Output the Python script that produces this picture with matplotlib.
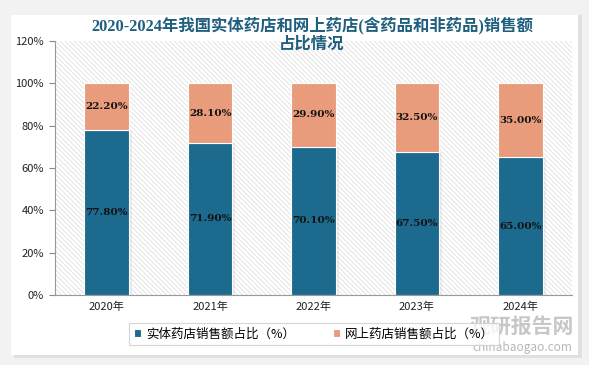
import numpy as np
import matplotlib
matplotlib.use("Agg")
import matplotlib.pyplot as plt
from matplotlib.patches import Rectangle

plt.rcParams['font.family'] = ['Noto Sans CJK SC', 'DejaVu Sans']
plt.rcParams['hatch.linewidth'] = 0.5

years = ['2020年', '2021年', '2022年', '2023年', '2024年']
offline = [77.8, 71.9, 70.1, 67.5, 65.0]
online = [22.2, 28.1, 29.9, 32.5, 35.0]
series_names = ['实体药店销售额占比（%）', '网上药店销售额占比（%）']
title = '2020-2024年我国实体药店和网上药店(含药品和非药品)销售额\n占比情况'

c_off = '#1c6a8e'
c_on = '#e89c7c'
num_font = ['DejaVu Serif']


def plot_chart():
    fig = plt.figure(figsize=(5.89, 3.65), dpi=100)
    fig.patch.set_facecolor('#f2f2f2')

    # white card with soft shadow
    fig.patches.append(Rectangle((14 / 589, 1 - 358 / 365), 568 / 589, 343 / 365,
                                 transform=fig.transFigure, facecolor='#e0e0e0',
                                 edgecolor='none', zorder=-3))
    fig.patches.append(Rectangle((11 / 589, 1 - 355 / 365), 567 / 589, 340 / 365,
                                 transform=fig.transFigure, facecolor='white',
                                 edgecolor='none', zorder=-2))

    ax = fig.add_axes([55 / 589, 1 - 295 / 365, 517 / 589, 254 / 365])
    ax.set_zorder(1)
    ax.set_facecolor('none')
    ax.add_patch(Rectangle((0, 0), 1, 1, transform=ax.transAxes, facecolor='white',
                           edgecolor='#dadada', hatch='\\' * 7, linewidth=0, zorder=0))

    x = np.arange(len(years))
    w = 0.43
    ax.bar(x + 0.03, offline, w, color='#cfcfcf', alpha=0.35, zorder=1)
    ax.bar(x, offline, w, color=c_off, edgecolor='white', linewidth=0.8,
           label=series_names[0], zorder=2)
    ax.bar(x, online, w, bottom=offline, color=c_on, edgecolor='white', linewidth=0.8,
           label=series_names[1], zorder=2)

    for i in range(len(years)):
        ax.text(x[i], offline[i] / 2, f'{offline[i]:.2f}%', ha='center', va='center',
                fontsize=7.5, fontweight='bold', color='#111111', family=num_font, zorder=3)
        ax.text(x[i], offline[i] + online[i] / 2, f'{online[i]:.2f}%', ha='center',
                va='center', fontsize=7.5, fontweight='bold', color='#111111',
                family=num_font, zorder=3)

    ax.set_xlim(-0.5, len(years) - 0.5)
    ax.set_ylim(0, 120)
    ax.set_yticks(np.arange(0, 121, 20))
    ax.set_yticklabels([f'{v}%' for v in range(0, 121, 20)], fontsize=8, color='#222222')
    ax.set_xticks(x)
    ax.set_xticklabels(years, fontsize=8, color='#222222')
    ax.tick_params(axis='x', length=0, pad=5)
    ax.tick_params(axis='y', length=4, color='#888888', pad=4, direction='out')
    for s in ['top', 'right']:
        ax.spines[s].set_visible(False)
    ax.spines['left'].set_color('#999999')
    ax.spines['bottom'].set_color('#999999')

    fig.text(312 / 589, 1 - 35 / 365, title, ha='center', va='center', fontsize=11.8,
             fontweight='bold', color='#1f5f7e', linespacing=1.2,
             family=['Liberation Serif', 'Noto Sans CJK SC'])

    leg = fig.legend(loc='center', bbox_to_anchor=(314 / 589, 1 - 334 / 365), ncol=2,
                     fontsize=9, frameon=True, fancybox=False, edgecolor='#cccccc',
                     handlelength=0.6, handleheight=0.6, columnspacing=3,
                     borderpad=0.35, handletextpad=0.4, borderaxespad=0)
    leg.get_frame().set_linewidth(0.8)

    # watermark
    fig.text(522 / 589, 1 - 326 / 365, '观研报告网', ha='center', va='center', fontsize=15,
             fontweight='bold', color='#9a9a9a', alpha=0.55, zorder=5)
    fig.text(522 / 589, 1 - 347 / 365, 'chinabaogao.com', ha='center', va='center',
             fontsize=8.5, color='#9a9a9a', alpha=0.7, zorder=5)

    plt.savefig('out.png', dpi=100)
    plt.close()


def main():
    plot_chart()


if __name__ == "__main__":
    main()
